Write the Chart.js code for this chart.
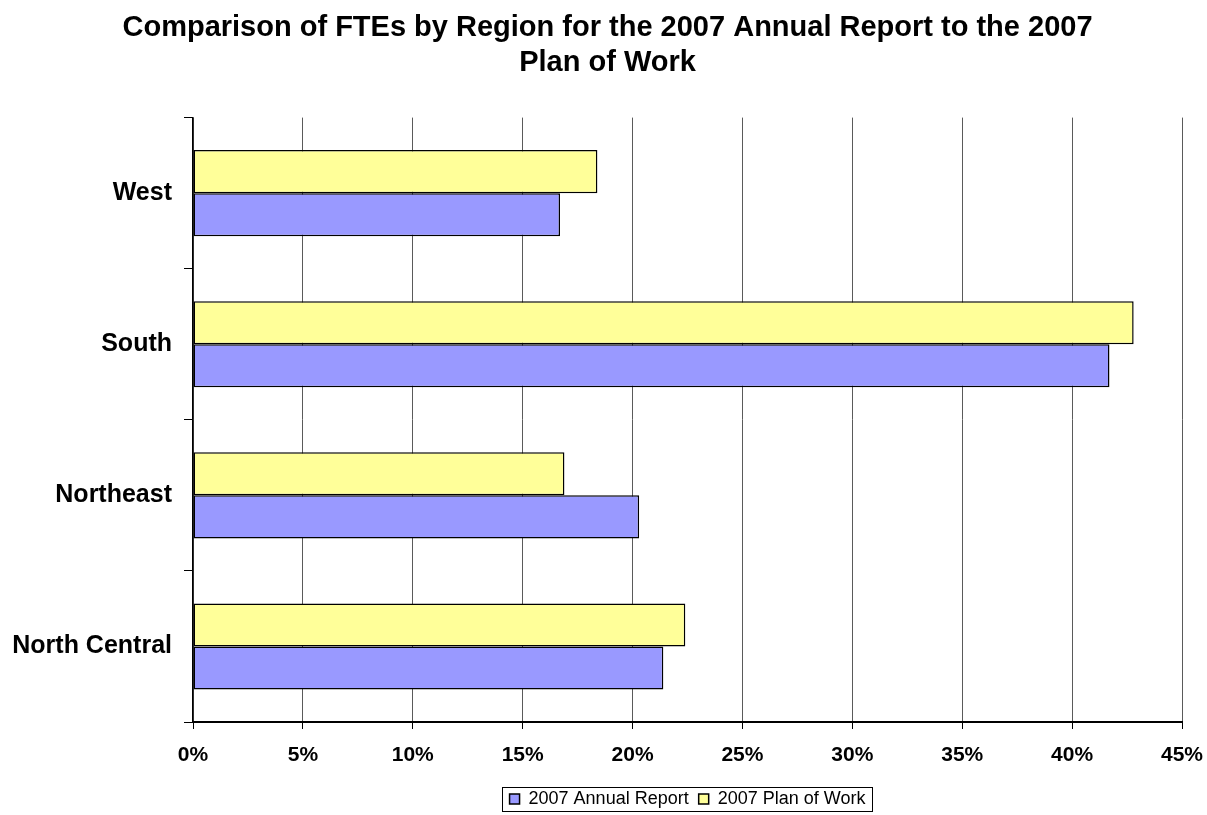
<!DOCTYPE html>
<html>
<head>
<meta charset="utf-8">
<script src="https://cdn.jsdelivr.net/npm/chart.js@4/dist/chart.umd.min.js"></script>
<style>
  html, body { margin: 0; padding: 0; background: #fff; }
  #wrap { width: 1207px; height: 815px; position: relative; }
</style>
</head>
<body>
<div id="wrap"><canvas id="c" width="1207" height="815"></canvas></div>
<script>
// data (percent of FTEs)
const regions = ["West", "South", "Northeast", "North Central"];
const annualReport = [16.7, 41.7, 20.3, 21.4];
const planOfWork = [18.4, 42.8, 16.9, 22.4];
const xTicks = [0, 5, 10, 15, 20, 25, 30, 35, 40, 45];

const FONT = "'Liberation Sans', Arial, Helvetica, sans-serif";

// excel-style box round the legend
const legendBorder = {
  id: "legendBorder",
  afterDraw(chart) {
    const hb = chart.legend && chart.legend.legendHitBoxes;
    if (!hb || !hb.length) return;
    const last = hb[hb.length - 1];
    const x0 = hb[0].left - 8, x1 = last.left + last.width + 6;
    const y0 = hb[0].top - 3, y1 = hb[0].top + hb[0].height + 3;
    const ctx = chart.ctx;
    ctx.save();
    ctx.strokeStyle = "#000";
    ctx.lineWidth = 1;
    ctx.strokeRect(Math.round(x0) + 0.5, Math.round(y0) + 0.5, Math.round(x1 - x0), Math.round(y1 - y0));
    ctx.restore();
  }
};

new Chart(document.getElementById("c"), {
  type: "bar",
  data: {
    labels: regions,
    datasets: [
      { label: "2007 Plan of Work", data: planOfWork, backgroundColor: "#FFFF99",
        borderColor: "#000", borderWidth: 1.5, borderSkipped: false },
      { label: "2007 Annual Report", data: annualReport, backgroundColor: "#9999FF",
        borderColor: "#000", borderWidth: 1.5, borderSkipped: false }
    ]
  },
  options: {
    indexAxis: "y",
    responsive: false,
    animation: false,
    maintainAspectRatio: false,
    categoryPercentage: 0.57,
    barPercentage: 1.0,
    layout: { padding: { left: 8, right: 0, top: 0, bottom: -3 } },
    plugins: {
      title: {
        display: true,
        text: ["Comparison of FTEs by Region for the 2007 Annual Report to the 2007", "Plan of Work"],
        color: "#000",
        font: { family: FONT, size: 29, weight: "bold", lineHeight: 1.2 },
        padding: { top: 11, bottom: 37 }
      },
      legend: {
        display: true,
        position: "bottom",
        fullSize: false,
        reverse: true,
        labels: {
          color: "#000",
          font: { family: FONT, size: 18 },
          boxWidth: 10,
          boxHeight: 10,
          padding: 10
        }
      },
      tooltip: { enabled: false }
    },
    scales: {
      x: {
        min: 0,
        max: 45,
        afterBuildTicks(scale) { scale.ticks = xTicks.map(v => ({ value: v })); },
        afterFit(scale) { scale.height = 58; scale.paddingLeft = 0; scale.paddingRight = 25; },
        ticks: {
          color: "#000",
          font: { family: FONT, size: 21, weight: "bold" },
          padding: 14,
          callback: v => v + "%"
        },
        grid: { color: "#5a5a5a", lineWidth: 1, drawTicks: true, tickLength: 7, tickColor: "#000" },
        border: { display: true, color: "#000", width: 2 }
      },
      y: {
        afterFit(scale) { scale.width = 185; },
        ticks: {
          color: "#000",
          font: { family: FONT, size: 25, weight: "bold" },
          padding: 12
        },
        grid: { offset: true, drawOnChartArea: false, drawTicks: true, tickLength: 9, color: "#000", lineWidth: 1 },
        border: { display: true, color: "#000", width: 1.5 }
      }
    }
  },
  plugins: [legendBorder]
});
</script>
</body>
</html>
